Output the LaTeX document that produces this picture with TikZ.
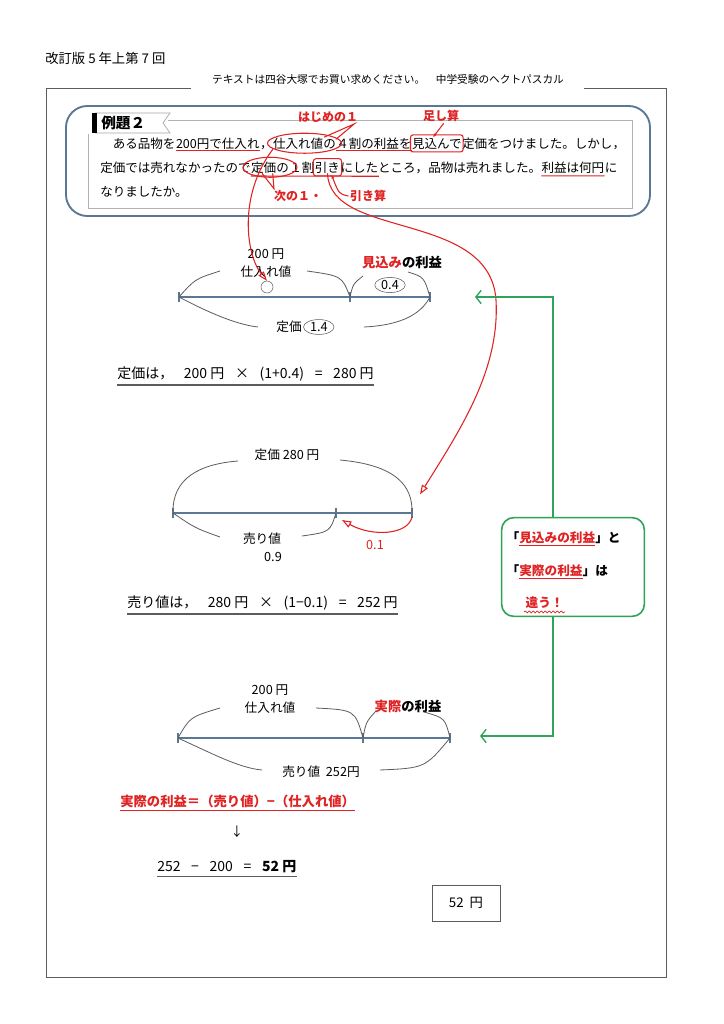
\documentclass[tikz,border=0pt]{standalone}
\usepackage{fontspec}
\setmainfont{Noto Sans CJK JP}
\usepackage{xcolor}
\usepackage{tikz}
\usetikzlibrary{arrows.meta,positioning,calc,shapes.geometric,decorations.pathmorphing}
\definecolor{hline}{HTML}{5A7896}
\definecolor{hred}{HTML}{E02222}
\definecolor{hgreen}{HTML}{2FA35A}
\definecolor{hgray}{HTML}{5C5C5C}
\newcommand\rul[1]{\textcolor{hred}{\underline{#1}}}
\newcommand\gap{\hspace{8pt}}

\begin{document}
\begin{tikzpicture}[x=0.75pt, y=-0.75pt,
        txt/.style={inner sep=0pt, anchor=base west, font=\fontsize{9.4}{12}\selectfont},
        frm/.style={inner sep=0pt, anchor=base west, font=\fontsize{10.5}{12}\selectfont},
        lbl/.style={inner sep=1pt, align=center, font=\fontsize{9.5}{13}\selectfont},
        oval/.style={lbl, draw=hgray, ellipse, inner xsep=1.5pt, inner ysep=0.5pt},
        note/.style={inner sep=1pt, text=hred, font=\fontsize{9}{11}\selectfont\bfseries},
        rd/.style={hred, line width=0.8pt},
        bow/.style={hgray, line width=0.6pt},
        axis/.style={hline, line width=1.3pt},
        tick/.style={hline, line width=0.8pt},
        ul/.style={hgray, line width=0.8pt},
        tip/.style={-{Triangle[open, length=7pt, width=5pt]}},
        grn/.style={hgreen, line width=1pt, -{Straight Barb[length=4pt, width=10pt]}}]
  \useasboundingbox[fill=white] (0,0) rectangle (724,1024);
  \node[anchor=west, inner sep=0pt, font=\fontsize{10}{12}\selectfont] (hd) at (45,58) {改訂版 5 年上第 7 回};
  \node[inner sep=0pt, font=\fontsize{8}{9}\selectfont] (sub) at (388,79) {テキストは四谷大塚でお買い求めください。　中学受験のヘクトパスカル};
  \draw[hgray, line width=0.6pt] (191,88) -| (46,977) -| (666,88) -- (584,88);

  \draw[hline, line width=1.4pt, rounded corners=16pt] (66,106) rectangle (650,216);
  \draw[gray!60, line width=0.5pt] (168,120) -- (632,120) -- (632,208) -- (88,208) -- (88,134);
  \draw[gray!70, line width=0.5pt, fill=white] (95,113) -- (170,113) -- (163,123) -- (170,133) -- (95,133);
  \fill (92,113) rectangle (97,133);
  \node[anchor=west, inner sep=0pt, font=\fontsize{11}{13}\selectfont\bfseries] (tag) at (101,123) {例題２};

  \node[txt] (t1a) at (100,148) {　ある品物を};
  \node[txt] (t1b) at (t1a.base east) {200円で仕入れ};
  \node[txt] (t1c) at (t1b.base east) {，};
  \node[txt] (t1d) at (t1c.base east) {仕入れ値の};
  \node[txt] (t1e) at (t1d.base east) {４割の利益を};
  \node[txt] (t1f) at (t1e.base east) {見込んで};
  \node[txt] (t1g) at (t1f.base east) {定価をつけました。しかし，};
  \node[txt] (t2a) at (100,172) {定価では売れなかったので};
  \node[txt] (t2b) at (t2a.base east) {定価の};
  \node[txt] (t2c) at (t2b.base east) {１割};
  \node[txt] (t2d) at (t2c.base east) {引き};
  \node[txt] (t2e) at (t2d.base east) {にしたところ，品物は売れました。};
  \node[txt] (t2f) at (t2e.base east) {利益は何円};
  \node[txt] (t2g) at (t2f.base east) {に};
  \node[txt] (t3) at (100,196) {なりましたか。};

  \draw[rd] ([yshift=-1pt]t1b.south west) -- ([yshift=-1pt]t1b.south east) ([yshift=-1pt]t1e.south west) -- ([yshift=-1pt]t1e.south east);
  \draw[rd] ([yshift=-2pt]t2b.south west) -- ([xshift=29pt,yshift=-2pt]t2e.south west) ([yshift=-2pt]t2f.south west) -- ([yshift=-2pt]t2f.south east);
  \draw[rd] (t1d.center) ellipse [x radius=37, y radius=10] (t2b.center) ellipse [x radius=27, y radius=10];
  \draw[rd, rounded corners=2pt] ([shift={(-1pt,2pt)}]t1f.north west) rectangle ([shift={(1pt,-2pt)}]t1f.south east);
  \draw[rd, rounded corners=2pt] ([shift={(-1pt,2pt)}]t2d.north west) rectangle ([shift={(1pt,-2pt)}]t2d.south east);
  \node[note] (k1) at (441,116) {足し算};
  \node[note] (k2) at (328,117) {はじめの１};
  \node[note] (k3) at (298,196) {次の１・};
  \node[note] (k4) at (368,196) {引き算};
  \draw[rd, -{Latex[length=3pt]}] ([xshift=2pt]k1.south) -- ([xshift=-3pt]t1f.north);
  \draw[rd] ([xshift=-9pt]t1d.north east) -- ([xshift=-4pt]k2.south east) -- ([yshift=3pt]t1d.east);
  \draw[rd] ([xshift=-6pt]t2b.south) -- ([xshift=-18pt]k3.north) -- ([xshift=2pt]t2b.south);
  \draw[rd, -{Latex[length=3pt]}] (k4.west) .. controls (339,194) .. ([xshift=3pt,yshift=-1pt]t2d.south);

  \coordinate (a0) at (179,297); \coordinate (a1) at (350,297); \coordinate (a2) at (430,297);
  \draw[axis] (a0) -- (a2);
  \foreach \p in {a0,a1,a2} \draw[tick] ([yshift=-4pt]\p) -- ([yshift=4pt]\p);
  \node[lbl] (s1) at (266,263) {200 円\\仕入れ値};
  \node[draw=hgray, circle, inner sep=0pt, minimum size=9pt] (o1) at (267,287) {};
  \node[lbl, font=\fontsize{10}{12}\selectfont\bfseries] (m1) at (402,262) {\textcolor{hred}{見込み}の利益};
  \node[oval] (e1) at (390,285) {0.4};
  \node[lbl] (d1) at (289,327) {定価};
  \node[oval, right=0pt of d1] (e2) {1.4};
  \draw[bow] (a0) .. controls (195,279) .. (220,271) (307,271) .. controls (342,276) .. (a1);
  \draw[bow] (a1) .. controls (353,284) .. (363,276) (408,272) .. controls (424,277) .. (a2);
  \draw[bow] (a0) .. controls (215,316) and (240,325) .. (258,327) (364,327) .. controls (405,325) and (422,312) .. (a2);
  \node[frm] (f1) at (117,378) {定価は，\gap 200 円\gap ×\gap (1+0.4)\gap =\gap 280 円};
  \draw[ul] ([yshift=-3pt]f1.south west) -- ([yshift=-3pt]f1.south east);

  \coordinate (b0) at (173,513); \coordinate (b1) at (336,513); \coordinate (b2) at (412,513);
  \draw[axis] (b0) -- (b2);
  \foreach \p in {b0,b1,b2} \draw[tick] ([yshift=-4pt]\p) -- ([yshift=4pt]\p);
  \node[lbl] (s2) at (287,455) {定価 280 円};
  \node[lbl] (u2) at (262,539) {売り値};
  \node[lbl] (n2) at (273,557) {0.9};
  \node[lbl, text=hred] (n3) at (375,545) {0.1};
  \draw[bow] (b0) .. controls (172,478) and (200,464) .. (238,461) (340,460) .. controls (395,465) and (413,485) .. (b2);
  \draw[bow] (b0) .. controls (195,528) .. (220,537) (302,536) .. controls (330,532) .. (b1);
  \draw[rd, tip] ([yshift=-3pt]b2) .. controls (408,535) and (372,537) .. (342,520);
  \node[frm] (f2) at (127,607) {売り値は，\gap 280 円\gap ×\gap (1−0.1)\gap =\gap 252 円};
  \draw[ul] ([yshift=-3pt]f2.south west) -- ([yshift=-3pt]f2.south east);

  \coordinate (c0) at (178,738); \coordinate (c1) at (363,738); \coordinate (c2) at (450,738);
  \draw[axis] (c0) -- (c2);
  \foreach \p in {c0,c1,c2} \draw[tick] ([yshift=-4pt]\p) -- ([yshift=4pt]\p);
  \node[lbl] (s3) at (270,699) {200 円\\仕入れ値};
  \node[lbl, font=\fontsize{10}{12}\selectfont\bfseries] (m3) at (408,706) {\textcolor{hred}{実際}の利益};
  \node[lbl] (u3) at (321,772) {売り値\ \ 252円};
  \draw[bow] (c0) .. controls (190,717) .. (220,708) (316,708) .. controls (355,710) .. (c1);
  \draw[bow] (c0) .. controls (215,755) and (240,768) .. (262,770) (380,770) .. controls (425,768) .. (c2);
  \draw[bow] (c1) .. controls (366,722) .. (376,711) (424,712) .. controls (445,718) .. (c2);

  \node[frm, text=hred, font=\fontsize{10}{12}\selectfont\bfseries] (r1) at (120,806) {実際の利益＝（売り値）−（仕入れ値）};
  \draw[rd] ([yshift=-2pt]r1.south west) -- ([yshift=-2pt]r1.south east);
  \node[lbl] (dn) at (237,832) {↓};
  \node[frm] (f3) at (157,871) {252\gap −\gap 200\gap =\gap \textbf{52 円}};
  \draw[ul] ([yshift=-3pt]f3.south west) -- ([yshift=-3pt]f3.south east);
  \node[draw=hgray, minimum width=51pt, minimum height=27pt, font=\fontsize{10}{11}\selectfont] (ans) at (466,903) {52\ \ 円};

  \draw[rd, tip] (t1d.south west) .. controls (238,195) and (246,255) .. (o1.north);
  \draw[rd, tip] (t2d.south) .. controls (330,240) and (490,210) .. (496,300) .. controls (500,370) and (460,430) .. ([xshift=6pt,yshift=14pt]b2);

  \node[draw=hgreen, line width=1.2pt, rounded corners=9pt, minimum width=107pt, minimum height=74pt] (g) at (573,567) {};
  \node[lbl, anchor=west, font=\fontsize{9.5}{11}\selectfont\bfseries] (g1) at (505,539) {「\rul{見込みの利益}」と};
  \node[lbl, anchor=west, font=\fontsize{9.5}{11}\selectfont\bfseries] (g2) at (505,572) {「\rul{実際の利益}」は};
  \node[lbl, anchor=west, text=hred, font=\fontsize{9.5}{11}\selectfont\bfseries] (g3) at (524,603) {違う！};
  \draw[hred, line width=0.5pt, decorate, decoration={snake, amplitude=0.7pt, segment length=3pt}] ([yshift=-1pt]g3.south west) -- ([yshift=-1pt]g3.south east);
  \coordinate (ga) at (475,297); \coordinate (gb) at (480,736);
  \draw[grn] ([xshift=-15pt]g.north) |- (ga);
  \draw[grn] ([xshift=-15pt]g.south) |- (gb);
\end{tikzpicture}
\end{document}
